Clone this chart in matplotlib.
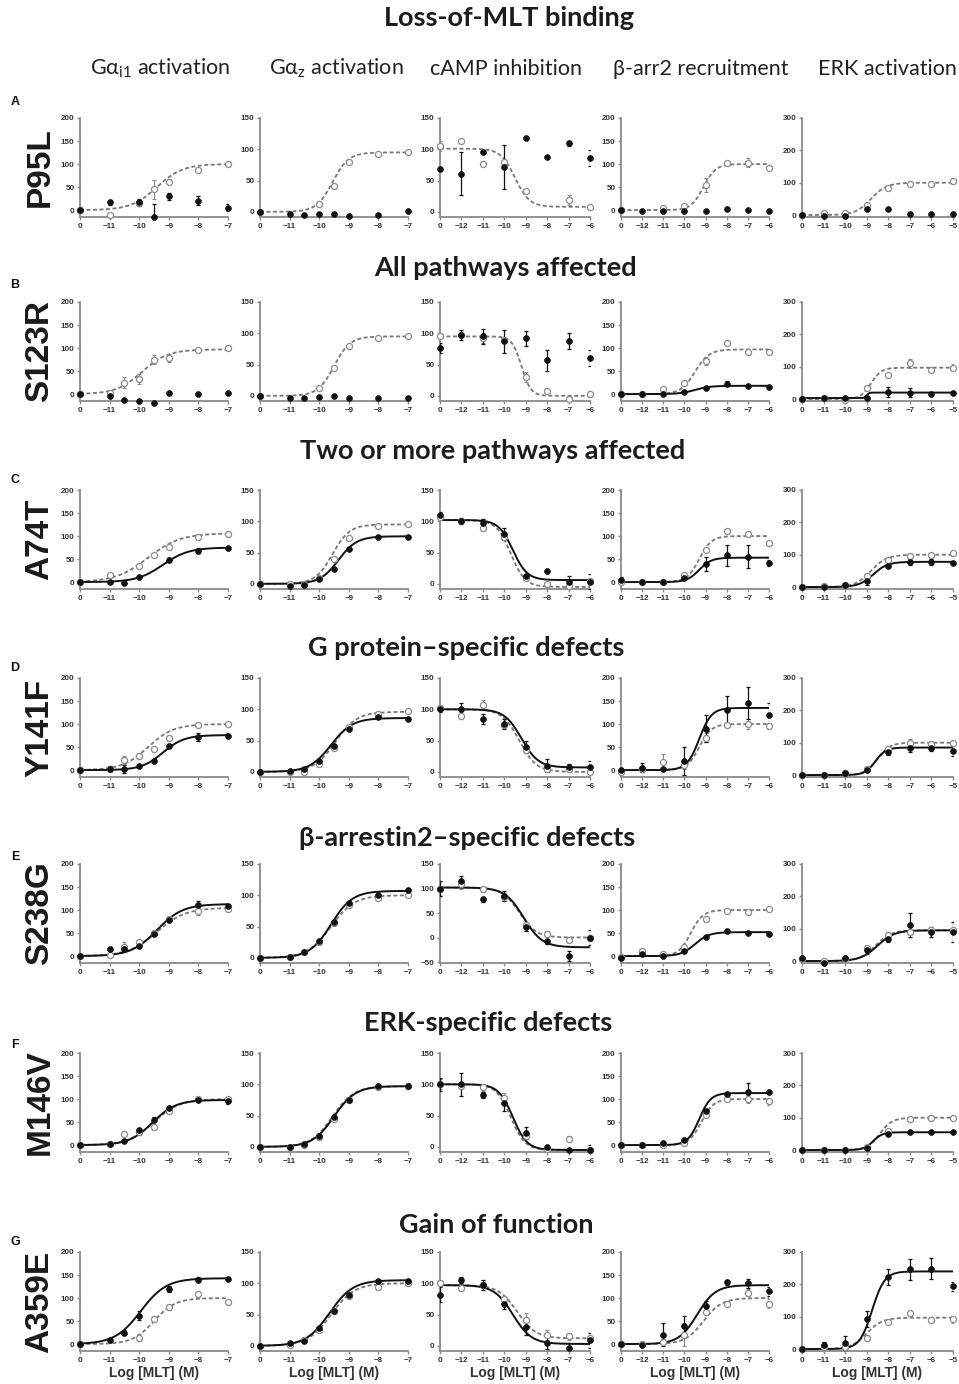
import numpy as np
import matplotlib
matplotlib.use("Agg")
import matplotlib.pyplot as plt

plt.rcParams['mathtext.fontset'] = 'custom'
plt.rcParams['mathtext.rm'] = 'Lato'

N = np.nan

# log [MLT]; the "0" (vehicle) point sits one step left of the lowest dose
x_gprot = [-12, -11, -10.5, -10, -9.5, -9, -8, -7]
x_camp = [-13, -12, -11, -10, -9, -8, -7, -6]
x_barr = [-13, -12, -11, -10, -9, -8, -7, -6]
x_erk = [-12, -11, -10, -9, -8, -7, -6, -5]

xt_gprot = [-12, -11, -10, -9, -8, -7]
xl_gprot = ["0", "−11", "−10", "−9", "−8", "−7"]
xt_camp = [-13, -12, -11, -10, -9, -8, -7, -6]
xl_camp = ["0", "−12", "−11", "−10", "−9", "−8", "−7", "−6"]
xt_erk = [-12, -11, -10, -9, -8, -7, -6, -5]
xl_erk = ["0", "−11", "−10", "−9", "−8", "−7", "−6", "−5"]

col_titles = [r"G$\mathregular{\alpha_{i1}}$ activation", r"G$\mathregular{\alpha_{z}}$ activation",
              "cAMP inhibition", "β-arr2 recruitment", "ERK activation"]
col_yticks = [[0, 50, 100, 150, 200], [0, 50, 100, 150], [0, 50, 100, 150],
              [0, 50, 100, 150, 200], [0, 100, 200, 300]]

letters = ["A", "B", "C", "D", "E", "F", "G"]
mutants = ["P95L", "S123R", "A74T", "Y141F", "S238G", "M146V", "A359E"]
sections = ["Loss-of-MLT binding", "All pathways affected", "Two or more pathways affected",
            "G protein–specific defects", "β-arrestin2–specific defects",
            "ERK-specific defects", "Gain of function"]

# ---- P95L
P95L_wt = [[0, -10, N, 15, 45, 62, 88, 100], [0, N, N, 13, 42, 80, 93, 96],
           [105, 113, 76, 80, 33, N, 19, 8], [0, N, 5, 8, 55, 103, 103, 92],
           [0, 5, 5, 30, 85, 95, 95, 105]]
P95L_wt_err = [[0, 0, 0, 5, 20, 5, 0, 0], [0] * 8, [8, 0, 0, 0, 0, 0, 8, 3],
               [0, 0, 0, 0, 15, 0, 10, 0], [0, 0, 0, 5, 0, 0, 5, 10]]
P95L_mut = [[0, 17, N, 17, -15, 30, 20, 5], [0, -4, -5, -3, -3, -6, -5, 1],
            [69, 61, 95, 72, 118, 88, 110, 86], [0, -3, -3, -2, -3, 3, 1, -3],
            [0, -3, -3, 20, 20, 2, 2, 3]]
P95L_mut_err = [[0, 5, 0, 8, 28, 8, 10, 8], [0, 2, 2, 0, 0, 0, 0, 0], [0, 34, 0, 35, 0, 0, 4, 13],
                [0, 0, 0, 0, 0, 3, 0, 0], [0, 0, 0, 0, 3, 0, 0, 0]]
P95L_wt_fit = [(0, 100, -9.4, 1), (0, 95, -9.55, 1.6), (101, 8, -9.5, 1.3), (0, 100, -9.1, 1.5), (0, 100, -8.8, 1.2)]
P95L_mut_fit = [None, None, None, None, None]

# ---- S123R
S123R_wt = [[0, 2, 25, 33, 75, 78, 95, 100], [0, N, N, 13, 45, 80, 93, 96],
            [95, 97, 93, 90, 30, 7, -5, 3], [0, 0, 12, 25, 72, 110, 92, 92],
            [0, 3, -2, 35, 73, 110, 90, 97]]
S123R_wt_err = [[0, 0, 12, 10, 10, 8, 0, 0], [0] * 8, [0, 0, 8, 0, 8, 3, 5, 5],
                [0, 0, 0, 0, 8, 0, 0, 4], [0, 0, 5, 0, 0, 15, 0, 10]]
S123R_mut = [[0, -5, -12, -15, -20, 3, 0, 2], [0, -4, -3, -2, -1, -3, -3, -3],
             [77, 97, 95, 87, 92, 57, 88, 60], [0, 0, 0, 5, 13, 23, 18, 15],
             [0, 3, 3, 3, 22, 20, 17, 20]]
S123R_mut_err = [[0, 3, 3, 5, 3, 0, 0, 0], [0] * 8, [8, 8, 12, 18, 12, 17, 13, 13],
                 [0, 0, 0, 0, 0, 5, 5, 3], [0, 0, 0, 0, 15, 15, 0, 5]]
S123R_wt_fit = [(0, 97, -9.9, 1), (0, 95, -9.5, 1.6), (95, 0, -9.2, 2), (0, 97, -9.5, 1.3), (0, 97, -8.8, 1.8)]
S123R_mut_fit = [None, None, None, (0, 18, -9.5, 1.2), (3, 20, -9.0, 8)]

# ---- A74T
A74T_wt = [[0, 15, N, 35, 58, 76, 97, 104], [0, 0, 0, 10, 40, 73, 93, 96],
           [107, 100, 90, 75, 10, 0, -3, 5], [0, 0, 0, 15, 70, 110, 105, 85],
           [0, 3, 5, 35, 85, 95, 100, 105]]
A74T_wt_err = [[0, 3, 0, 5, 4, 3, 3, 3], [0] * 8, [0, 0, 5, 0, 0, 0, 0, 0],
               [0] * 8, [0, 0, 0, 0, 0, 0, 0, 8]]
A74T_mut = [[0, 0, -2, 11, N, 48, 68, 74], [0, -3, -2, 8, 23, 56, 75, 75],
            [110, 100, 98, 80, 12, 20, 3, 3], [5, 0, 0, 8, 40, 58, 55, 42],
            [0, 0, 5, 20, 65, 78, 78, 75]]
A74T_mut_err = [[0, 0, 0, 3, 0, 4, 5, 4], [0] * 8, [5, 5, 5, 10, 3, 3, 10, 12],
                [5, 0, 0, 0, 15, 22, 25, 6], [0, 0, 0, 15, 0, 10, 10, 5]]
A74T_wt_fit = [(0, 106, -9.7, 0.8), (0, 95, -9.55, 1.5), (102, -5, -9.7, 1.3), (0, 100, -9.3, 1.5), (0, 100, -8.8, 1.2)]
A74T_mut_fit = [(0, 75, -9.2, 1), (0, 76, -9.35, 1.4), (102, 6, -9.6, 1.3), (0, 53, -9.3, 1.5), (0, 78, -8.7, 1.3)]

# ---- Y141F
Y141F_wt = [[0, 3, 22, 30, 45, 70, 98, 100], [0, 0, 0, 12, 38, 72, 93, 97],
            [102, 90, 107, 75, 35, 5, 5, 0], [-5, 2, 18, 10, 70, 98, 100, 95],
            [0, 0, 5, 20, 80, 100, 95, 100]]
Y141F_wt_err = [[0, 0, 8, 5, 5, 0, 0, 0], [0] * 8, [0, 5, 8, 5, 0, 5, 0, 0],
                [0, 5, 18, 8, 10, 0, 10, 5], [0, 0, 0, 0, 0, 12, 10, 0]]
Y141F_mut = [[0, 3, 2, 8, 20, 52, 72, 75], [0, 2, 5, 18, 42, 68, 87, 85],
             [100, 100, 85, 77, 40, 10, 8, 8], [0, 5, 3, 20, 90, 130, 145, 120],
             [0, 0, 5, 15, 70, 85, 85, 75]]
Y141F_mut_err = [[0, 5, 8, 4, 5, 5, 8, 5], [0] * 8, [5, 10, 8, 8, 10, 10, 5, 10],
                 [5, 10, 0, 30, 30, 30, 35, 25], [0, 0, 8, 0, 8, 15, 12, 15]]
Y141F_wt_fit = [(0, 100, -9.7, 1), (0, 96, -9.45, 1.2), (100, 0, -9.3, 1.1), (0, 100, -9.3, 1.5), (0, 100, -8.5, 1.5)]
Y141F_mut_fit = [(0, 76, -9.2, 1.2), (0, 86, -9.6, 1.2), (100, 7, -9.2, 1.1), (0, 135, -9.3, 1.5), (0, 85, -8.6, 1.8)]

# ---- S238G
S238G_wt = [[0, 3, 20, 30, 50, 80, 98, 103], [0, 2, 10, 25, 55, 85, 95, 100],
            [100, 110, 100, 82, 25, 8, -5, -2], [-2, 10, 5, 20, 80, 98, 95, 102],
            [5, 0, 5, 40, 80, 90, 95, 95]]
S238G_wt_err = [[0, 0, 10, 5, 5, 5, 8, 5], [0] * 8, [15, 10, 0, 8, 5, 5, 5, 5],
                [0, 5, 0, 5, 0, 0, 0, 0], [0, 0, 0, 0, 10, 0, 5, 0]]
S238G_mut = [[0, 15, 15, 23, 48, 78, 110, 108], [0, 2, 10, 27, 58, 88, 100, 108],
             [100, 115, 78, 85, 22, -8, -38, 0], [-5, 5, 0, 10, 42, 55, 50, 47],
             [10, -5, 8, 33, 68, 112, 90, 90]]
S238G_mut_err = [[0, 5, 5, 4, 5, 4, 10, 5], [0] * 8, [15, 10, 5, 10, 8, 5, 10, 15],
                 [0] * 8, [5, 0, 5, 10, 8, 38, 15, 30]]
S238G_wt_fit = [(0, 105, -9.4, 0.9), (0, 100, -9.6, 1.1), (102, 0, -9.3, 1.1), (0, 100, -9.7, 1.5), (0, 95, -8.6, 1.2)]
S238G_mut_fit = [(0, 113, -9.4, 1), (0, 107, -9.6, 1.2), (102, -20, -9.1, 1), (0, 52, -9.5, 1.3), (0, 95, -8.5, 1.1)]

# ---- M146V
M146V_wt = [[0, 3, 25, 28, 40, 75, 100, 100], [0, 0, 3, 15, 45, 75, 95, 97],
            [100, 97, 95, 78, 17, -3, 12, -5], [0, 0, 0, 5, 65, 100, 100, 95],
            [0, 0, 0, 10, 60, 95, 100, 100]]
M146V_wt_err = [[0, 0, 5, 5, 5, 5, 5, 5], [0] * 8, [8, 5, 5, 8, 5, 0, 5, 0],
                [0, 0, 0, 0, 0, 0, 8, 8], [0] * 8]
M146V_mut = [[0, 3, 8, 33, 55, 80, 98, 95], [0, 0, 5, 18, 47, 75, 97, 97],
             [100, 100, 83, 70, 22, 0, -5, -5], [0, 0, 5, 10, 73, 110, 115, 115],
             [0, 0, 0, 5, 50, 55, 57, 55]]
M146V_mut_err = [[0, 0, 0, 4, 5, 5, 5, 5], [0, 0, 0, 0, 0, 0, 4, 4], [10, 18, 5, 12, 10, 0, 0, 8],
                 [0, 0, 3, 0, 5, 0, 20, 5], [0] * 8]
M146V_wt_fit = [(0, 100, -9.5, 1), (0, 97, -9.55, 1.2), (100, -5, -9.7, 1.3), (0, 100, -9.2, 1.5), (0, 100, -8.4, 1.5)]
M146V_mut_fit = [(0, 98, -9.55, 1.1), (0, 97, -9.5, 1.2), (100, -5, -9.6, 1.3), (0, 113, -9.3, 1.6), (0, 55, -8.7, 2)]

# ---- A359E
A359E_wt = [[0, N, N, 14, 55, 80, 108, 91], [0, 2, 10, 25, 55, 80, 94, 100],
            [100, 93, 97, 75, 42, 18, 15, 13], [0, 0, 5, 20, 70, 88, 112, 88],
            [0, 5, 5, 35, 85, 110, 90, 92]]
A359E_wt_err = [[0, 0, 0, 8, 5, 5, 5, 5], [0] * 8, [5, 5, 5, 5, 10, 8, 5, 8],
                [0, 0, 5, 25, 5, 5, 8, 10], [0, 0, 0, 10, 5, 8, 5, 10]]
A359E_mut = [[0, 8, 25, 62, N, 120, 140, 141], [0, 5, 7, 29, 56, 81, 103, 104],
             [82, 105, 97, 67, 30, 5, -3, 9], [0, -2, 20, 40, 83, 134, 132, 115],
             [0, 13, 18, 93, 222, 247, 249, 194]]
A359E_mut_err = [[0, 4, 5, 10, 0, 6, 6, 5], [0] * 8, [12, 5, 8, 8, 12, 10, 8, 12],
                 [0, 5, 25, 22, 10, 5, 10, 10], [0, 8, 22, 25, 25, 32, 32, 13]]
A359E_wt_fit = [(0, 100, -9.5, 1.2), (0, 100, -9.6, 1.1), (97, 12, -9.4, 1), (0, 100, -9.1, 1), (0, 97, -9.0, 1.2)]
A359E_mut_fit = [(0, 143, -9.95, 1), (0, 105, -9.65, 1.1), (97, 3, -9.6, 1), (0, 128, -9.4, 1), (0, 240, -8.75, 1.5)]

rows = [
    (P95L_wt, P95L_wt_err, P95L_mut, P95L_mut_err, P95L_wt_fit, P95L_mut_fit),
    (S123R_wt, S123R_wt_err, S123R_mut, S123R_mut_err, S123R_wt_fit, S123R_mut_fit),
    (A74T_wt, A74T_wt_err, A74T_mut, A74T_mut_err, A74T_wt_fit, A74T_mut_fit),
    (Y141F_wt, Y141F_wt_err, Y141F_mut, Y141F_mut_err, Y141F_wt_fit, Y141F_mut_fit),
    (S238G_wt, S238G_wt_err, S238G_mut, S238G_mut_err, S238G_wt_fit, S238G_mut_fit),
    (M146V_wt, M146V_wt_err, M146V_mut, M146V_mut_err, M146V_wt_fit, M146V_mut_fit),
    (A359E_wt, A359E_wt_err, A359E_mut, A359E_mut_err, A359E_wt_fit, A359E_mut_fit),
]

col_x = [x_gprot, x_gprot, x_camp, x_barr, x_erk]
col_xt = [(xt_gprot, xl_gprot), (xt_gprot, xl_gprot), (xt_camp, xl_camp),
          (xt_camp, xl_camp), (xt_erk, xl_erk)]


def hill(x, p):
    lo, hi, ec, h = p
    return lo + (hi - lo) / (1 + 10 ** ((ec - x) * h))


# layout in pixels
W, H = 959, 1384
col_left = [80, 260, 440, 621, 802]
col_w = [148, 148, 150, 148, 151]
row_top = [118, 302, 490, 678, 864, 1053, 1252]
ax_h = 99
section_y = [18, 268, 451, 648, 838, 1023, 1225]
section_x = [509, 505, 493, 466, 467, 488, 496]
letter_y = [102, 285, 480, 668, 857, 1045, 1242]
header_x = [160, 336, 506, 701, 957]
header_ha = ['center', 'center', 'center', 'center', 'right']

GRAY = "#8a8a8a"
fig = plt.figure(figsize=(W / 100, H / 100), dpi=100)
tick_font = ['Liberation Sans Narrow', 'Liberation Sans']

for i, s in enumerate(sections):
    fig.text(section_x[i] / W, 1 - section_y[i] / H, s, ha='center', va='center',
             fontsize=19.5, fontweight='bold', family=['Lato', 'DejaVu Sans'], color='#1c1c1c')

for c, t in enumerate(col_titles):
    fig.text(header_x[c] / W, 1 - 75 / H, t, ha=header_ha[c], va='baseline',
             fontsize=15.5, family=['Lato', 'DejaVu Sans'], color='#222222')

for r in range(7):
    wt, wt_err, mut, mut_err, wt_fit, mut_fit = rows[r]
    fig.text(15 / W, 1 - letter_y[r] / H, letters[r], ha='center', va='center',
             fontsize=9, fontweight='bold', family='Liberation Sans', color='#111111')
    fig.text(40 / W, 1 - (row_top[r] + ax_h / 2) / H, mutants[r], ha='center', va='center',
             rotation=90, fontsize=24, fontweight='bold', family='Liberation Sans', color='#1a1a1a')
    for c in range(5):
        ax = fig.add_axes([col_left[c] / W, 1 - (row_top[r] + ax_h) / H, col_w[c] / W, ax_h / H])
        xs = np.array(col_x[c], dtype=float)
        yt = col_yticks[c]
        if r == 4 and c == 2:
            yt = [-50, 0, 50, 100, 150]
        top = yt[-1]
        span = top - yt[0]
        ax.set_ylim(yt[0] - span * (0.075 if top == 200 else 0.055 if top == 150 else 0.02), top)
        if r == 4 and c == 2:
            ax.set_ylim(-52, 150)
        ax.set_xlim(xs[0], xs[-1])
        xt, xl = col_xt[c]
        ax.set_xticks(xt)
        ax.set_xticklabels(xl)
        ax.set_yticks(yt)
        for sp in ['top', 'right']:
            ax.spines[sp].set_visible(False)
        for sp in ['left', 'bottom']:
            ax.spines[sp].set_color(GRAY)
            ax.spines[sp].set_linewidth(1.3)
        ax.tick_params(direction='out', length=2.5, width=1, color=GRAY, pad=1.5,
                       labelsize=5.8, labelcolor='#333333')
        for lab in ax.get_xticklabels() + ax.get_yticklabels():
            lab.set_fontweight('bold')
            lab.set_family(tick_font)
        ax.patch.set_alpha(0)

        xx = np.linspace(xs[0], xs[-1], 300)
        if wt_fit[c] is not None:
            ax.plot(xx, hill(xx, wt_fit[c]), color='#777777', lw=1.3, ls=(0, (2.2, 1.4)), zorder=2)
        if mut_fit[c] is not None:
            ax.plot(xx, hill(xx, mut_fit[c]), color='#111111', lw=1.4, zorder=3)

        yw = np.array(wt[c], dtype=float)
        ew = np.array(wt_err[c], dtype=float)
        ym = np.array(mut[c], dtype=float)
        em = np.array(mut_err[c], dtype=float)
        k = (ew > 0) & ~np.isnan(yw)
        if k.any():
            ax.errorbar(xs[k], yw[k], yerr=ew[k], fmt='none', ecolor='#888888',
                        elinewidth=0.8, capsize=1.6, capthick=0.8, zorder=2)
        k = (em > 0) & ~np.isnan(ym)
        if k.any():
            ax.errorbar(xs[k], ym[k], yerr=em[k], fmt='none', ecolor='#111111',
                        elinewidth=0.9, capsize=1.6, capthick=0.9, zorder=3)
        ax.plot(xs, yw, 'o', ms=4.4, mfc='white', mec='#8c8c8c', mew=0.9, ls='none',
                zorder=4, clip_on=False)
        ax.plot(xs, ym, 'o', ms=4.2, mfc='#111111', mec='#111111', mew=0.5, ls='none',
                zorder=5, clip_on=False)

        if r == 6:
            ax.set_xlabel('Log [MLT] (M)', fontsize=10, fontweight='bold',
                          family='Liberation Sans', color='#333333', labelpad=1.5)

fig.savefig('out.png', dpi=100)
